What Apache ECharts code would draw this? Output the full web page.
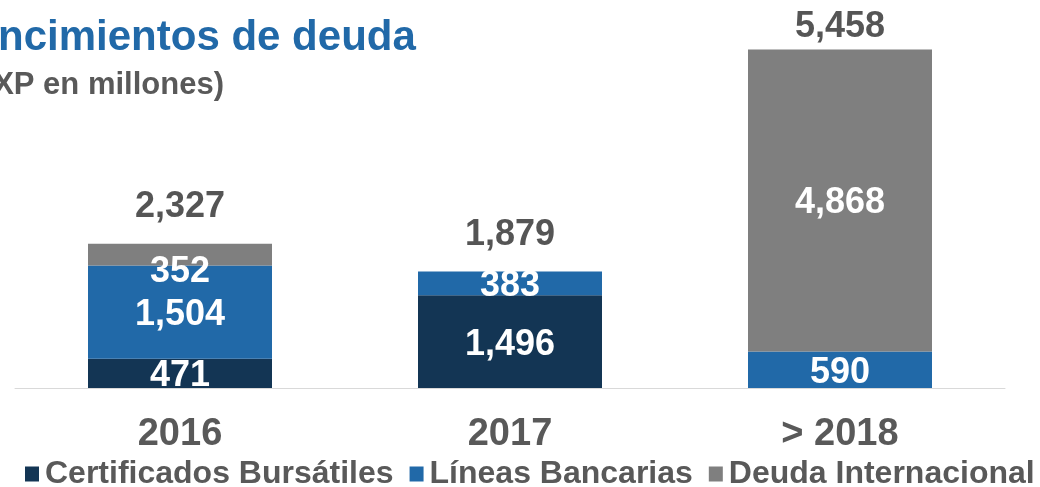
<!DOCTYPE html>
<html>
<head>
<meta charset="utf-8">
<script src="https://cdn.jsdelivr.net/npm/echarts@6/dist/echarts.min.js"></script>
<style>
  html, body { margin: 0; padding: 0; background: #fff; }
  #chart { width: 1040px; height: 487px; }
</style>
</head>
<body>
<div id="chart"></div>
<script>
var categories = ['2016', '2017', '> 2018'];
var certificados = [471, 1496, '-'];
var lineas = [1504, 383, 590];
var deudaInt = [352, '-', 4868];
var totals = [2327, 1879, 5458];
var seriesNames = ['Certificados Bursátiles', 'Líneas Bancarias', 'Deuda Internacional'];

var font = '"Liberation Sans", Arial, sans-serif';

function fmt(v) {
    return String(v).replace(/\B(?=(\d{3})+(?!\d))/g, ',');
}

var chart = echarts.init(document.getElementById('chart'));

var innerLabel = {
    show: true,
    position: 'inside',
    offset: [0, 3],
    color: '#fff',
    fontSize: 36,
    fontWeight: 'bold',
    fontFamily: font,
    formatter: function (p) { return fmt(p.value); }
};

var option = {
    animation: false,
    graphic: [{
        type: 'text',
        left: -51,
        top: 17,
        style: {
            text: 'Vencimientos de deuda',
            fill: '#2169A8',
            font: 'bold 42px ' + font
        }
    }, {
        type: 'text',
        left: -43,
        top: 70,
        style: {
            text: '(MXP en millones)',
            fill: '#595959',
            font: 'bold 31px ' + font
        }
    }],
    legend: {
        data: seriesNames,
        left: 20,
        top: 453,
        width: 1040,
        icon: 'rect',
        itemWidth: 14,
        itemHeight: 15,
        itemGap: 16,
        textStyle: {
            color: '#595959',
            fontSize: 32,
            fontWeight: 'bold',
            fontFamily: font,
            padding: [0, 0, 0, 1]
        }
    },
    grid: { left: 15, width: 990, top: 16, height: 372 },
    xAxis: {
        type: 'category',
        data: categories,
        axisLine: { lineStyle: { color: '#D9D9D9', width: 1 } },
        axisTick: { show: false },
        axisLabel: {
            color: '#595959',
            fontSize: 38,
            fontWeight: 'bold',
            fontFamily: font,
            margin: 28
        }
    },
    yAxis: { type: 'value', min: 0, max: 6000, show: false },
    series: [{
        name: seriesNames[0],
        type: 'bar',
        stack: 'a',
        barWidth: 184,
        data: certificados,
        itemStyle: { color: '#133554' },
        label: innerLabel
    }, {
        name: seriesNames[1],
        type: 'bar',
        stack: 'a',
        data: lineas,
        itemStyle: { color: '#2169A8' },
        label: innerLabel
    }, {
        name: seriesNames[2],
        type: 'bar',
        stack: 'a',
        data: deudaInt.map(function (v, i) {
            if (i === 0) return { value: v, label: { offset: [0, 17] } };
            return v;
        }),
        itemStyle: { color: '#7F7F7F' },
        label: innerLabel
    }, {
        name: 'Total',
        type: 'line',
        data: totals.map(function (v, i) {
            return { value: v, label: { distance: i === 2 ? 4 : 18 } };
        }),
        symbol: 'circle',
        symbolSize: 1,
        showSymbol: true,
        itemStyle: { color: 'rgba(0,0,0,0)' },
        lineStyle: { width: 0, color: 'rgba(0,0,0,0)' },
        silent: true,
        z: 10,
        label: {
            show: true,
            position: 'top',
            color: '#555555',
            fontSize: 36,
            fontWeight: 'bold',
            fontFamily: font,
            formatter: function (p) { return fmt(p.value); }
        }
    }]
};

chart.setOption(option);
</script>
</body>
</html>
